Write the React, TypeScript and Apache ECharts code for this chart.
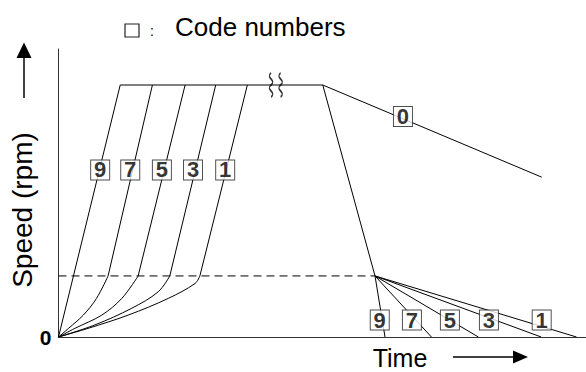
import React, { useEffect, useRef } from "react";
import * as echarts from "echarts";

// ---- data (schematic units: time 0..100, speed 0..100) ----
const plateauSpeed = 87.5;
const thresholdSpeed = 21.2;
const plateauEndTime = 50.1;
const breakTime = 41.2;

const accelCodes = [9, 7, 5, 3, 1];
// curved start section of each acceleration profile (code 9 is a straight ramp)
const accelCurve9: number[][] = [[0, 0], [11.7, plateauSpeed]];
const accelCurve7: number[][] = [[0, 0], [1.9, 3.0], [4.7, 7.6], [7.2, 13.4], [9.4, 21.2]];
const accelCurve5: number[][] = [[0, 0], [3.1, 3.0], [8.2, 7.6], [12.0, 13.4], [15.1, 21.2]];
const accelCurve3: number[][] = [[0, 0], [6.9, 4.2], [13.9, 10.0], [18.9, 15.7], [21.1, 21.2]];
const accelCurve1: number[][] = [[0, 0], [5.6, 3.0], [13.2, 7.6], [20.8, 13.4], [25.9, 18.6], [26.8, 21.2]];
const accelTopTime = [11.7, 17.8, 24.0, 29.8, 35.8];
const accelLabelTime = [7.9, 13.6, 19.6, 25.5, 31.6];
const accelLabelSpeed = 58.0;

const decelCodes = [9, 7, 5, 3, 1];
const decelKneeTime = 60.0;
const decelEndTime = [61.9, 70.7, 79.6, 91.5, 98.2];
const decelLabelTime = [60.9, 67.0, 74.2, 81.6, 91.6];
const decelLabelSpeed = 5.9;

const code0Line: number[][] = [[plateauEndTime, plateauSpeed], [91.6, 55.5]];
const code0Label = [65.3, 76.6];

const yTickLabels = ["0"];

const FONT = "'Liberation Sans', Arial, Helvetica, sans-serif";

export default function App() {
  const ref = useRef<HTMLDivElement>(null);

  useEffect(() => {
    document.body.style.margin = "0";
    if (!ref.current) return;
    const chart = echarts.init(ref.current, null, { renderer: "svg" });

    const lineStyle = { color: "#000", width: 1 };
    const base = {
      type: "line" as const,
      symbol: "none",
      silent: true,
      lineStyle,
      z: 2,
    };

    const accelCurves = [accelCurve9, accelCurve7, accelCurve5, accelCurve3, accelCurve1];
    const series: any[] = [];

    accelCurves.forEach((c, i) => {
      series.push({ ...base, smooth: i === 0 ? false : 0.35, data: c });
      if (i > 0) {
        const knee = c[c.length - 1];
        series.push({ ...base, data: [knee, [accelTopTime[i], plateauSpeed]] });
      }
    });

    // plateau
    series.push({ ...base, data: [[accelTopTime[0], plateauSpeed], [plateauEndTime, plateauSpeed]] });
    // threshold dashed line
    series.push({
      ...base,
      data: [[0, thresholdSpeed], [decelKneeTime, thresholdSpeed]],
      lineStyle: { color: "#000", width: 1, type: [8, 5] },
    });
    // deceleration: steep ramp to knee
    series.push({ ...base, data: [[plateauEndTime, plateauSpeed], [decelKneeTime, thresholdSpeed]] });
    decelEndTime.forEach((t) => {
      series.push({ ...base, data: [[decelKneeTime, thresholdSpeed], [t, 0]] });
    });
    // code 0 line
    series.push({ ...base, data: code0Line });

    // break mark
    series.push({
      type: "scatter",
      silent: true,
      z: 5,
      symbol:
        "path://M4,0 C-1,5 9,7 4,12 C-1,17 9,19 4,24 M12,0 C7,5 17,7 12,12 C7,17 17,19 12,24",
      symbolSize: [13, 24],
      itemStyle: { color: "rgba(0,0,0,0)", borderColor: "#000", borderWidth: 1.6 },
      data: [[breakTime, plateauSpeed]],
    });

    // code number boxes
    const boxData: any[] = [];
    accelCodes.forEach((c, i) => boxData.push([accelLabelTime[i], accelLabelSpeed, String(c)]));
    decelCodes.forEach((c, i) => boxData.push([decelLabelTime[i], decelLabelSpeed, String(c)]));
    boxData.push([code0Label[0], code0Label[1], "0"]);

    series.push({
      type: "scatter",
      silent: true,
      z: 10,
      symbol: "rect",
      symbolSize: [19, 20],
      itemStyle: { color: "#fff", borderColor: "#222", borderWidth: 1 },
      label: {
        show: true,
        position: "inside",
        formatter: (p: any) => p.value[2],
        color: "#000",
        fontFamily: FONT,
        fontWeight: "bold",
        fontSize: 22,
      },
      data: boxData,
    });

    chart.setOption({
      animation: false,
      backgroundColor: "#fff",
      grid: { left: 58.5, right: 0, top: 49, bottom: 35 },
      xAxis: {
        type: "value",
        min: 0,
        max: 100,
        axisLine: { show: true, lineStyle: { color: "#333", width: 1 } },
        axisTick: { show: false },
        axisLabel: { show: false },
        splitLine: { show: false },
      },
      yAxis: {
        type: "value",
        min: 0,
        max: 100,
        interval: 100,
        axisLine: { show: true, lineStyle: { color: "#333", width: 1 } },
        axisTick: { show: false },
        splitLine: { show: false },
        axisLabel: {
          show: true,
          margin: 7,
          formatter: (v: number) => (v === 0 ? yTickLabels[0] : ""),
          color: "#000",
          fontFamily: FONT,
          fontWeight: "bold",
          fontSize: 21,
        },
      },
      graphic: [
        // legend-like title
        {
          type: "rect",
          shape: { x: 125, y: 24, width: 14, height: 13 },
          style: { fill: "#fff", stroke: "#222", lineWidth: 1.2 },
        },
        {
          type: "text",
          x: 150,
          y: 38,
          style: { text: ":", font: `14px ${FONT}`, fill: "#000", textVerticalAlign: "bottom" },
        },
        {
          type: "text",
          x: 175,
          y: 27,
          style: {
            text: "Code numbers",
            font: `26px ${FONT}`,
            fill: "#000",
            textVerticalAlign: "middle",
          },
        },
        // y axis name + arrow
        {
          type: "text",
          x: 22,
          y: 210,
          rotation: Math.PI / 2,
          style: {
            text: "Speed (rpm)",
            font: `28px ${FONT}`,
            fill: "#000",
            textAlign: "center",
            textVerticalAlign: "middle",
          },
        },
        {
          type: "line",
          shape: { x1: 24, y1: 57, x2: 24, y2: 98 },
          style: { stroke: "#000", lineWidth: 1.5 },
        },
        {
          type: "polygon",
          shape: { points: [[24, 42.5], [16.5, 58], [31.5, 58]] },
          style: { fill: "#000" },
        },
        // x axis name + arrow
        {
          type: "text",
          x: 400,
          y: 358,
          style: {
            text: "Time",
            font: `25px ${FONT}`,
            fill: "#000",
            textAlign: "center",
            textVerticalAlign: "middle",
          },
        },
        {
          type: "line",
          shape: { x1: 453, y1: 357, x2: 515, y2: 357 },
          style: { stroke: "#000", lineWidth: 1.5 },
        },
        {
          type: "polygon",
          shape: { points: [[528, 357], [513, 350.5], [513, 363.5]] },
          style: { fill: "#000" },
        },
      ],
      series,
    });

    return () => chart.dispose();
  }, []);

  return <div ref={ref} style={{ width: 586, height: 372 }} />;
}
